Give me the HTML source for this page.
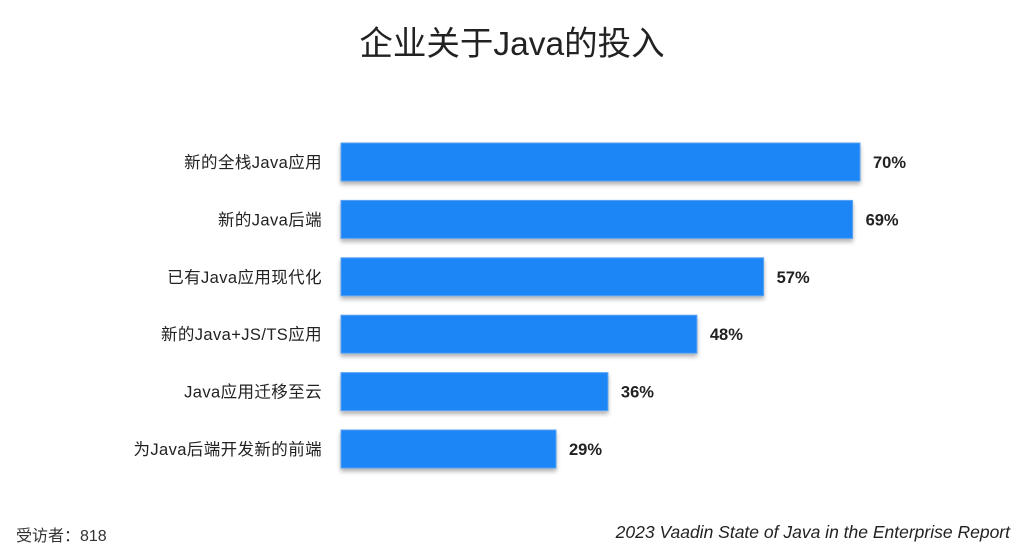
<!DOCTYPE html>
<html><head><meta charset="utf-8"><style>
body{margin:0;width:1024px;height:554px;background:#fff;font-family:"Liberation Sans","Noto Sans CJK SC",sans-serif;color:#222;position:relative;overflow:hidden}
.t{position:absolute;white-space:nowrap}
</style></head><body>
<div class="t" style="left:0;width:1024px;top:16px;text-align:center;font-size:33.5px;color:#222">企业关于Java的投入</div>
<svg id="c" width="1024" height="554" style="position:absolute;left:0;top:0">
<defs><filter id="sh" x="-5%" y="-20%" width="110%" height="160%"><feDropShadow dx="0" dy="3" stdDeviation="2" flood-color="#000" flood-opacity="0.3"/></filter></defs>
</svg>
<div class="t" style="left:16px;top:522px;font-size:16px;color:#333">受访者：818</div>
<div class="t" style="right:14px;top:522px;font-size:17.5px;font-style:italic;color:#222">2023 Vaadin State of Java in the Enterprise Report</div>
<script>
const categories=["新的全栈Java应用","新的Java后端","已有Java应用现代化","新的Java+JS/TS应用","Java应用迁移至云","为Java后端开发新的前端"];
const values=[70,69,57,48,36,29];
const valueLabels=["70%","69%","57%","48%","36%","29%"];
const svg=document.getElementById('c');
const NS='http://www.w3.org/2000/svg';
const x0=341, pxPer=519/70, y0=143, step=57.4, bh=38;
const xs=v=>x0+v*pxPer;
const ys=i=>y0+i*step;
categories.forEach((c,i)=>{
  const r=document.createElementNS(NS,'rect');
  r.setAttribute('x',x0);r.setAttribute('y',ys(i));
  r.setAttribute('width',xs(values[i])-x0);r.setAttribute('height',bh);
  r.setAttribute('fill','#1f86f7');r.setAttribute('stroke','#5aa3f0');r.setAttribute('stroke-width','1');
  r.setAttribute('filter','url(#sh)');
  
  
  svg.appendChild(r);
  const l=document.createElementNS(NS,'text');
  l.setAttribute('x',322);l.setAttribute('y',ys(i)+bh/2+6);
  l.setAttribute('text-anchor','end');l.setAttribute('font-size','16.5');l.setAttribute('fill','#222');
  l.setAttribute('letter-spacing','0.4');
  l.textContent=c;
  
  
  svg.appendChild(l);
  const v=document.createElementNS(NS,'text');
  v.setAttribute('x',xs(values[i])+13);v.setAttribute('y',ys(i)+bh/2+6);
  v.setAttribute('font-size','16.5');v.setAttribute('font-weight','bold');v.setAttribute('fill','#222');
  v.textContent=valueLabels[i];
  
  
  svg.appendChild(v);
});
</script>
</body></html>
